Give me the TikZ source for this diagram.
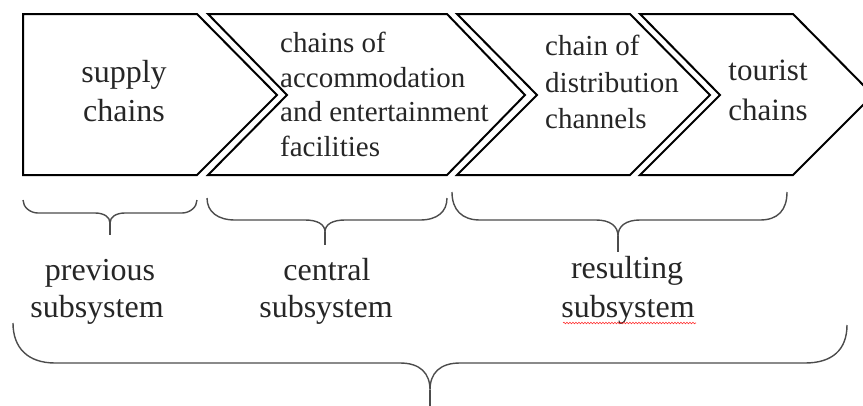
\documentclass[tikz,border=0pt]{standalone}
\usepackage{fontspec}
\setmainfont{Liberation Serif}
\usetikzlibrary{decorations.pathmorphing}
\begin{document}
\begin{tikzpicture}[x=1pt,y=-1pt,
  chev/.style={draw=black,line width=2pt,line join=miter},
  brace/.style={draw=black!70,line width=1.4pt},
  big/.style={inner sep=0pt,anchor=base,font=\fontsize{32}{38}\selectfont,text=black!85},
  mid/.style={inner sep=0pt,anchor=base,font=\fontsize{31}{37}\selectfont,text=black!85},
  small/.style={inner sep=0pt,anchor=base west,font=\fontsize{29}{35}\selectfont,text=black!85},
  wavy/.style={draw=red!80,line width=0.6pt,decorate,decoration={snake,amplitude=0.8pt,segment length=3pt}}]
\useasboundingbox (0,0) rectangle (863,405);
% chevrons
\draw[chev] (23,14) -- (197,14) -- (277,95) -- (197,175) -- (23,175) -- cycle;
\draw[chev] (208,14) -- (447,14) -- (525,95) -- (447,175) -- (208,175) -- (287,95) -- cycle;
\draw[chev] (457,14) -- (630,14) -- (710,95) -- (630,175) -- (457,175) -- (537,95) -- cycle;
\draw[chev] (640,14) -- (793,14) -- (873,95) -- (793,175) -- (640,175) -- (720,95) -- cycle;
% texts in chevrons
\node[big] (s1a) at (124,82) {supply};
\node[big] (s1b) at (124,121) {chains};
\node[small] (s2a) at (280,52) {chains of};
\node[small] (s2b) at (280,87) {accommodation};
\node[small] (s2c) at (280,121) {and entertainment};
\node[small] (s2d) at (280,156) {facilities};
\node[small] (s3a) at (545,55) {chain of};
\node[small] (s3b) at (545,92) {distribution};
\node[small] (s3c) at (545,128) {channels};
\node[mid] (s4a) at (768,80) {tourist};
\node[mid] (s4b) at (768,120) {chains};
% braces
\draw[brace] (23,200) .. controls (23,207) and (30,213) .. (38,213) -- (95,213)
  .. controls (104,213) and (110,217) .. (110,223)
  .. controls (110,217) and (116,213) .. (125,213) -- (182,213)
  .. controls (190,213) and (197,207) .. (197,200);
\draw[brace] (110,223) -- (110,235);
\draw[brace] (207,198) .. controls (207,212) and (218,220) .. (235,220) -- (305,220)
  .. controls (317,220) and (325,224) .. (325,232)
  .. controls (325,224) and (333,220) .. (345,220) -- (420,220)
  .. controls (437,220) and (447,212) .. (447,198);
\draw[brace] (325,232) -- (325,245);
\draw[brace] (452,192) .. controls (452,210) and (462,220) .. (480,220) -- (596,220)
  .. controls (610,220) and (618,226) .. (618,236)
  .. controls (618,226) and (626,220) .. (640,220) -- (760,220)
  .. controls (778,220) and (787,210) .. (787,192);
\draw[brace] (618,236) -- (618,252);
\draw[brace] (13,323) .. controls (13,348) and (28,363) .. (55,363) -- (400,363)
  .. controls (420,363) and (430,373) .. (430,390)
  .. controls (430,373) and (440,363) .. (460,363) -- (805,363)
  .. controls (832,363) and (847,350) .. (847,325);
\draw[brace] (430,390) -- (430,410);
% labels
\node[big] (l1a) at (100,280) {previous};
\node[big] (l1b) at (97,317) {subsystem};
\node[big] (l2a) at (327,280) {central};
\node[big] (l2b) at (326,317) {subsystem};
\node[big] (l3a) at (627,278) {resulting};
\node[big] (l3b) at (628,317) {subsystem};
\coordinate (w1) at (563,323);
\coordinate (w2) at (696,323);
\draw[wavy] (w1) -- (w2);
\end{tikzpicture}
\end{document}
